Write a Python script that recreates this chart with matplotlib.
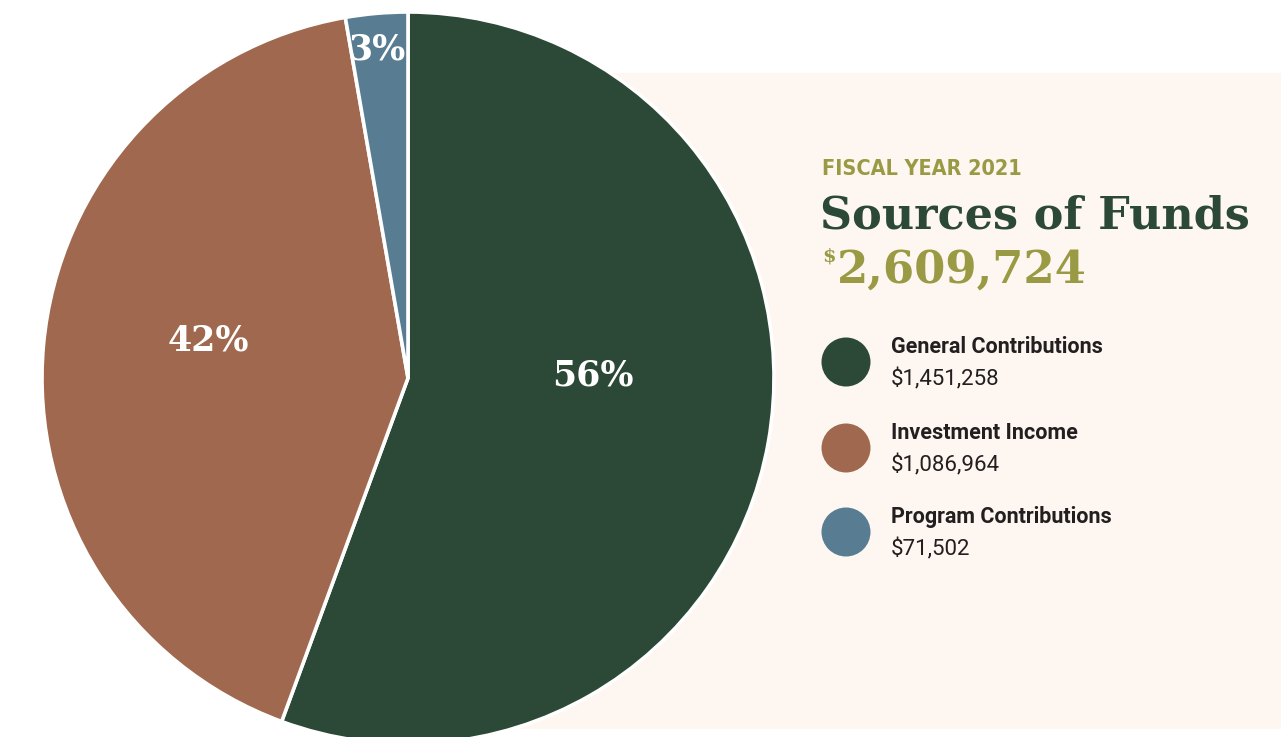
import matplotlib.pyplot as plt
from matplotlib.patches import Rectangle, Circle

# data
sources = ["General Contributions", "Investment Income", "Program Contributions"]
amounts = [1451258, 1086964, 71502]
amount_labels = ["$1,451,258", "$1,086,964", "$71,502"]
pct_labels = ["56%", "42%", "3%"]
total_label = "2,609,724"
year_label = "FISCAL YEAR 2021"

colors = ["#2b4936", "#a0684e", "#587d93"]
olive = "#999a43"
beige = "#fef6f0"
ink = "#231f20"

W, H = 1281, 737
fig = plt.figure(figsize=(W / 100, H / 100), dpi=100)
fig.set_facecolor("white")
ax = fig.add_axes([0, 0, 1, 1])

def Y(py):
    # pixel row (top = 0) -> axes y
    return H - py

# beige panel behind the text
ax.add_patch(Rectangle((520, Y(729)), W - 520, 729 - 73, facecolor=beige,
                       edgecolor="none", zorder=0))

# the pie
wedges, _ = ax.pie(amounts, colors=colors, startangle=90, counterclock=False,
                   center=(408, Y(378)), radius=366, frame=True,
                   wedgeprops=dict(edgecolor="white", linewidth=2.6))
for w in wedges:
    w.set_zorder(2)
ax.set_xlim(0, W)
ax.set_ylim(0, H)
ax.set_aspect("equal")
ax.axis("off")

pct_pos = [(593, 375), (208, 340), (377, 49)]
for lab, (px, py) in zip(pct_labels, pct_pos):
    ax.text(px, Y(py), lab, color="white", fontsize=25, fontweight="bold",
            family="DejaVu Serif", ha="center", va="center", zorder=3)

# heading
ax.text(822, Y(169), year_label, color=olive, fontsize=15.5,
        fontweight="bold", fontstretch="condensed",
        family=["Liberation Sans Narrow", "DejaVu Sans"], ha="left",
        va="center", zorder=3)
ax.text(820, Y(216), "Sources of Funds", color=colors[0], fontsize=32,
        fontweight="bold", family="DejaVu Serif", ha="left", va="center",
        zorder=3)
ax.text(822, Y(256), "$", color=olive, fontsize=14, fontweight="bold",
        family="DejaVu Serif", ha="left", va="center", zorder=3)
ax.text(837, Y(270), total_label, color=olive, fontsize=32.3,
        fontweight="bold", family="DejaVu Serif", ha="left", va="center",
        zorder=3)

# legend
leg_y = [362, 448, 532]
for name, amt, col, cy in zip(sources, amount_labels, colors, leg_y):
    ax.add_patch(Circle((846, Y(cy)), 24.5, facecolor=col, edgecolor="none",
                        zorder=3))
    ax.text(891, Y(cy - 15), name, color=ink, fontsize=15.5,
            fontweight="bold", family="Roboto", ha="left", va="center",
            zorder=3)
    ax.text(891, Y(cy + 17), amt, color=ink, fontsize=16,
            fontweight="normal", family="Roboto", ha="left", va="center",
            zorder=3)

fig.savefig("out.png", dpi=100, facecolor=fig.get_facecolor())
